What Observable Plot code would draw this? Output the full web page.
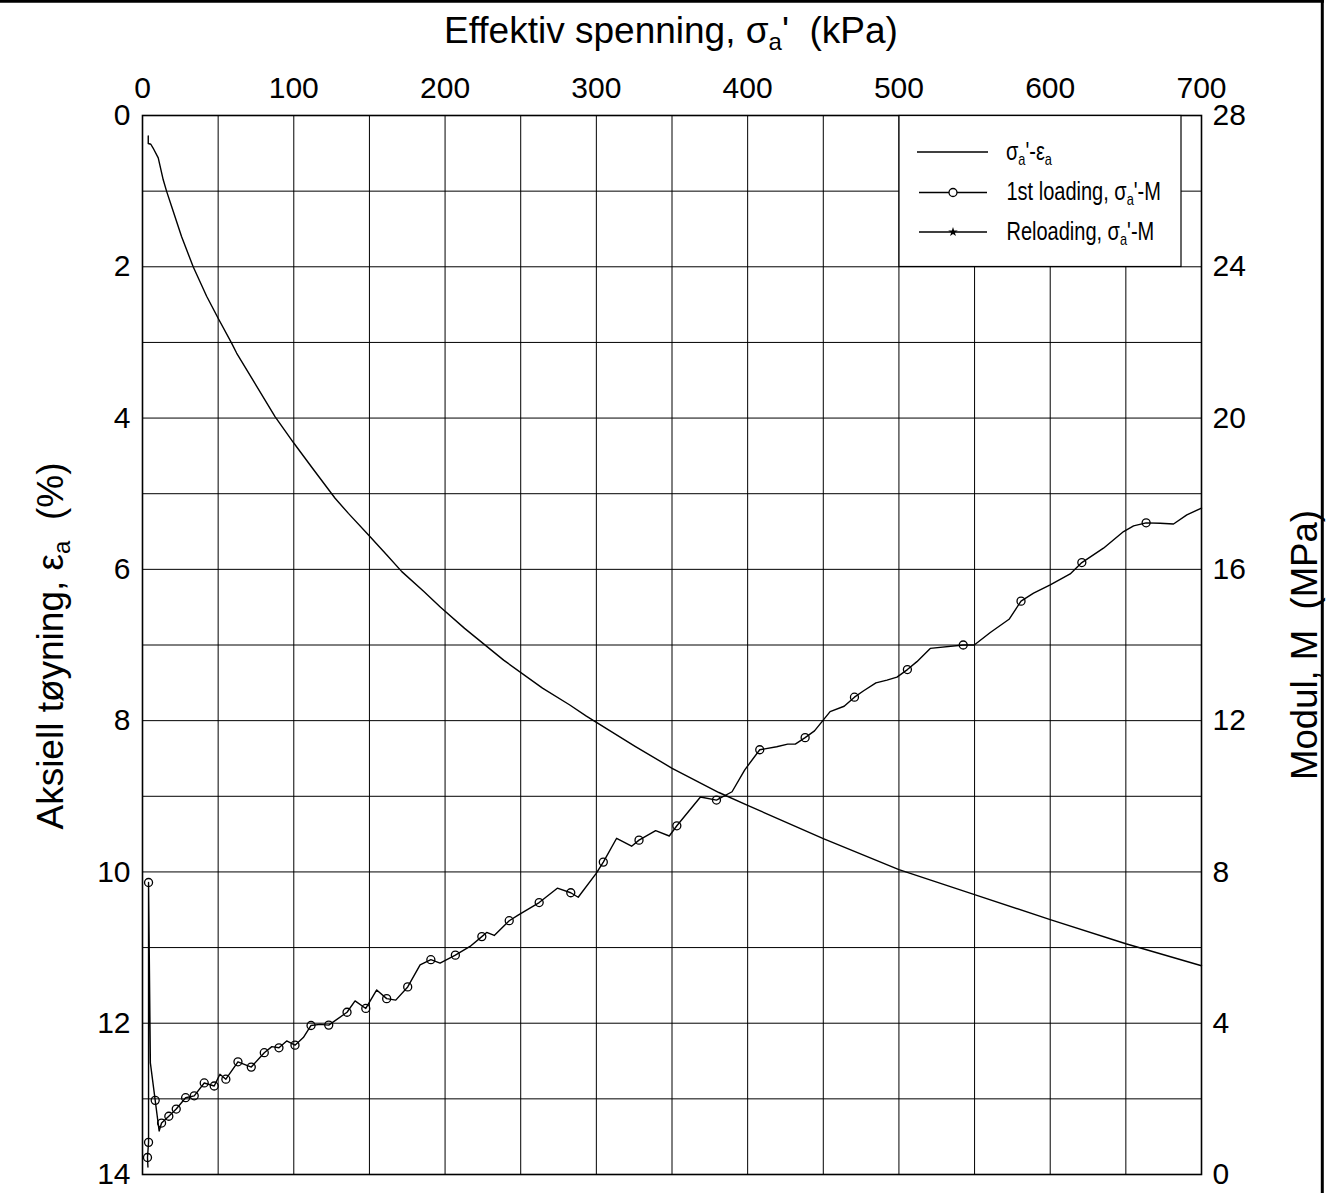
<!DOCTYPE html>
<html>
<head>
<meta charset="utf-8">
<script src="https://cdn.jsdelivr.net/npm/d3@7"></script>
<script src="https://cdn.jsdelivr.net/npm/@observablehq/plot@0.6"></script>
<style>
  html, body { margin: 0; padding: 0; background: #fff; }
  #wrap { position: relative; width: 1338px; height: 1193px; }
  #overlay { position: absolute; left: 0; top: 0; pointer-events: none; }
  #overlay text { white-space: pre; }
</style>
</head>
<body>
<div id="wrap"></div>
<script>
// ---- data ----
// Effective stress (kPa) and axial strain (%) for the sigma'-epsilon curve
const sigmaStrain = [3.8, 3.8, 5.5, 7.0, 10.4, 13.7, 15.9, 19.2, 25.8, 33.5, 42.4, 50.0, 58.9, 62.2, 75.5, 87.6, 100, 113, 127.3, 136.1, 150, 161.5, 171.4, 185.8, 197, 212.9, 238.7, 264.4, 282.2, 293.4, 325.6, 350.1, 381, 400, 450, 500, 550, 600, 650, 700];
const strain = [0.27, 0.37, 0.38, 0.43, 0.56, 0.85, 1.0, 1.2, 1.6, 2.0, 2.39, 2.68, 3.01, 3.14, 3.58, 3.98, 4.33, 4.68, 5.06, 5.26, 5.56, 5.81, 6.03, 6.29, 6.5, 6.78, 7.2, 7.57, 7.79, 7.94, 8.34, 8.63, 8.95, 9.12, 9.56, 9.97, 10.3, 10.63, 10.95, 11.24];

// Effective stress (kPa) and modulus M (MPa), 1st loading; marked = 1 where a circle is drawn
const sigmaM = [3.6, 3.3, 4.0, 4.0, 5.2, 8.4, 11.0, 12.6, 17.4, 22.3, 28.5, 34.2, 40.8, 47.4, 51.2, 55.1, 63.1, 71.9, 80.5, 85.5, 90.2, 95.3, 100.8, 106.3, 111.4, 117.3, 123.1, 135.2, 140.5, 147.6, 154.8, 161.4, 167.4, 175.3, 183.5, 190.6, 196.7, 206.8, 216.5, 224.3, 227.5, 232.5, 242.4, 248.3, 262.2, 274.2, 283.1, 288.0, 299.9, 304.6, 313.4, 323.3, 328.2, 339.2, 348.2, 353.2, 368.8, 379.4, 389.7, 398.1, 408.0, 419.2, 426.5, 431.5, 438.0, 444.2, 454.5, 463.8, 470.6, 476.7, 484.8, 492.1, 498.7, 505.6, 511.9, 520.7, 542.5, 549.8, 560.4, 572.8, 580.7, 589.0, 600.0, 613.2, 620.9, 635.2, 648.5, 655.1, 663.4, 672.6, 681.5, 690.3, 700.0];
const modulus = [0.2, 0.45, 0.85, 7.72, 2.95, 1.96, 1.15, 1.36, 1.54, 1.73, 2.03, 2.08, 2.42, 2.34, 2.65, 2.52, 2.98, 2.84, 3.22, 3.38, 3.35, 3.53, 3.42, 3.62, 3.94, 3.97, 3.95, 4.29, 4.59, 4.39, 4.88, 4.65, 4.61, 4.96, 5.54, 5.68, 5.59, 5.80, 6.03, 6.29, 6.40, 6.32, 6.71, 6.86, 7.19, 7.57, 7.45, 7.33, 7.96, 8.26, 8.89, 8.68, 8.84, 9.09, 8.95, 9.22, 9.98, 9.90, 10.12, 10.70, 11.23, 11.31, 11.38, 11.38, 11.55, 11.73, 12.24, 12.38, 12.62, 12.79, 13.0, 13.07, 13.15, 13.35, 13.56, 13.91, 14.0, 14.0, 14.33, 14.68, 15.16, 15.37, 15.59, 15.88, 16.18, 16.56, 17.0, 17.15, 17.23, 17.22, 17.2, 17.44, 17.62];
const marked = [0, 1, 1, 1, 0, 1, 0, 1, 1, 1, 1, 1, 1, 1, 0, 1, 1, 1, 1, 0, 1, 0, 1, 0, 1, 0, 1, 1, 0, 1, 0, 1, 0, 1, 0, 1, 0, 1, 0, 1, 0, 0, 1, 0, 1, 0, 1, 0, 0, 1, 0, 0, 1, 0, 0, 1, 0, 1, 0, 0, 1, 0, 0, 0, 1, 0, 0, 0, 1, 0, 0, 0, 0, 1, 0, 0, 1, 0, 0, 0, 1, 0, 0, 0, 1, 0, 0, 0, 1, 0, 0, 0, 0];

// ticks and grid
const stressTicks = [0, 100, 200, 300, 400, 500, 600, 700];
const strainTicks = [0, 2, 4, 6, 8, 10, 12, 14];
const modulusTickLabels = [28, 24, 20, 16, 12, 8, 4, 0];
const gridStress = [0, 50, 100, 150, 200, 250, 300, 350, 400, 450, 500, 550, 600, 650, 700];
const gridStrain = [0, 1, 2, 3, 4, 5, 6, 7, 8, 9, 10, 11, 12, 13, 14];

// ---- build ----
const strainData = sigmaStrain.map((s, i) => ({s, e: strain[i]}));
const modData = sigmaM.map((s, i) => ({s, m: modulus[i], mark: marked[i]}));
const mToY = d => 14 - d.m / 2; // modulus 0..28 mapped onto strain axis 14..0

const chart = Plot.plot({
  width: 1338,
  height: 1193,
  marginLeft: 142,
  marginRight: 137,
  marginTop: 115,
  marginBottom: 19,
  x: {domain: [0, 700]},
  y: {domain: [0, 14], reverse: true},
  style: {fontFamily: "'Liberation Sans', Arial, sans-serif", fontSize: "30px", background: "white", color: "#000", overflow: "visible"},
  marks: [
    Plot.ruleX(gridStress, {stroke: "#000", strokeWidth: 1}),
    Plot.ruleY(gridStrain, {stroke: "#000", strokeWidth: 1}),
    Plot.line(strainData, {x: "s", y: "e", stroke: "#000", strokeWidth: 1.4}),
    Plot.line(modData, {x: "s", y: mToY, stroke: "#000", strokeWidth: 1.4}),
    Plot.dot(modData.filter(d => d.mark), {x: "s", y: mToY, r: 4, stroke: "#000", fill: "none", strokeWidth: 1.3}),
    Plot.frame({stroke: "#000", strokeWidth: 1.6}),
    Plot.axisX(stressTicks, {anchor: "top", tickSize: 0, tickPadding: 18, fontSize: 30, label: null, tickFormat: d => String(d)}),
    Plot.axisY(strainTicks, {anchor: "left", tickSize: 0, tickPadding: 12, fontSize: 30, label: null, tickFormat: d => String(d)}),
    Plot.axisY(strainTicks, {anchor: "right", tickSize: 0, tickPadding: 11, fontSize: 30, label: null,
      tickFormat: d => String(modulusTickLabels[strainTicks.indexOf(d)])})
  ]
});

const wrap = document.getElementById("wrap");
wrap.appendChild(chart);

// ---- overlay: titles, legend, outer border ----
const starPath = d3.symbol(d3.symbolStar, 28)();
const lf = "font-size=\"25\"";
const overlay = `
<svg id="overlay" width="1338" height="1193" font-family="'Liberation Sans', Arial, sans-serif" fill="#000">
  <line x1="0" y1="1.3" x2="1324" y2="1.3" stroke="#000" stroke-width="2.7"/>
  <line x1="1322.3" y1="0" x2="1322.3" y2="1193" stroke="#000" stroke-width="3"/>
  <text x="671" y="43" text-anchor="middle" font-size="37">Effektiv spenning, σ<tspan dy="7" font-size="24">a</tspan><tspan dy="-7">'  (kPa)</tspan></text>
  <text transform="translate(63,646) rotate(-90)" text-anchor="middle" font-size="37">Aksiell tøyning, ε<tspan dy="7" font-size="24">a</tspan><tspan dy="-7">  (%)</tspan></text>
  <text transform="translate(1317,645) rotate(-90)" text-anchor="middle" font-size="36.5">Modul, M  (MPa)</text>
  <g>
    <rect x="899" y="115.5" width="282" height="151" fill="#fff" stroke="#000" stroke-width="1.2"/>
    <line x1="917" y1="152" x2="988" y2="152" stroke="#000" stroke-width="1.3"/>
    <text transform="translate(1006,160) scale(0.8,1)" ${lf}>σ<tspan dy="5" font-size="16">a</tspan><tspan dy="-5">'-ε</tspan><tspan dy="5" font-size="16">a</tspan></text>
    <line x1="919" y1="192.5" x2="987" y2="192.5" stroke="#000" stroke-width="1.3"/>
    <circle cx="953" cy="192.5" r="4" fill="#fff" stroke="#000" stroke-width="1.3"/>
    <text transform="translate(1006.5,200) scale(0.8,1)" ${lf}>1st loading, σ<tspan dy="5" font-size="16">a</tspan><tspan dy="-5">'-M</tspan></text>
    <line x1="919" y1="232" x2="987" y2="232" stroke="#000" stroke-width="1.3"/>
    <path transform="translate(953,232)" d="${starPath}" fill="#000"/>
    <text transform="translate(1006.5,240) scale(0.8,1)" ${lf}>Reloading, σ<tspan dy="5" font-size="16">a</tspan><tspan dy="-5">'-M</tspan></text>
  </g>
</svg>`;
wrap.insertAdjacentHTML("beforeend", overlay);
</script>
</body>
</html>
